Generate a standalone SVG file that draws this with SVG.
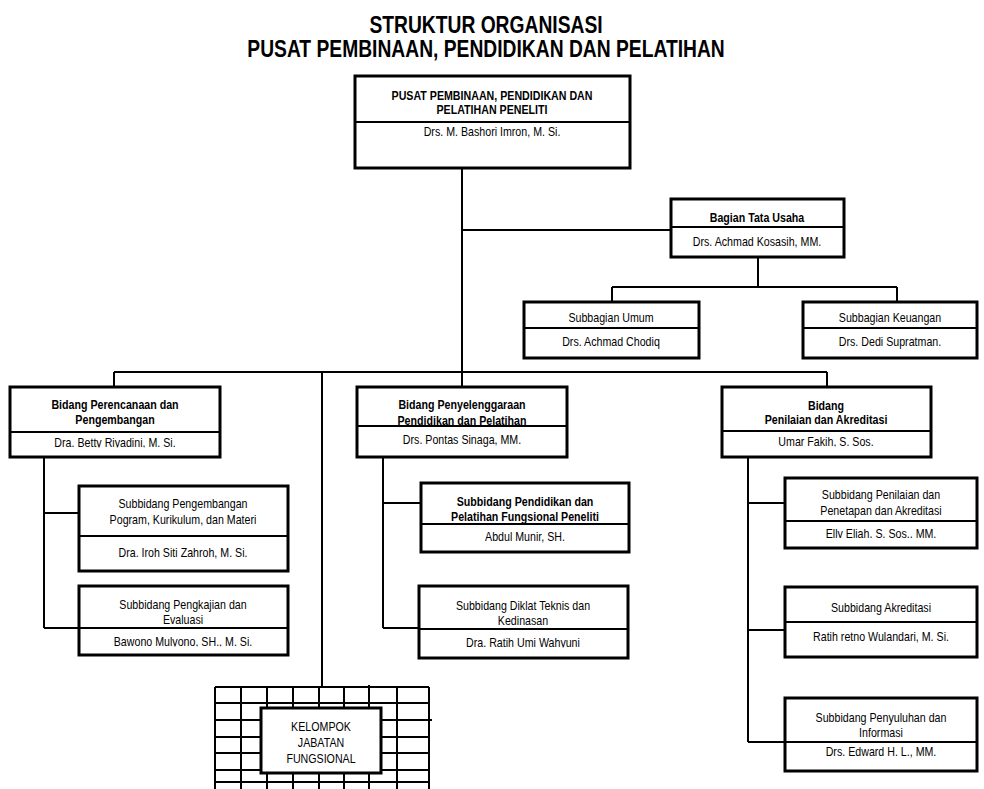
<svg xmlns="http://www.w3.org/2000/svg" width="984" height="789" viewBox="0 0 984 789">
<style>
.bx{fill:#fff;stroke:#000;stroke-width:3}
.dv{stroke:#000;stroke-width:2}
.cn{stroke:#000;stroke-width:2;fill:none}
.gr{stroke:#000;stroke-width:2;fill:none}
text{font-family:"Liberation Sans",Arial,sans-serif;font-size:13px;text-anchor:middle;fill:#000}
.b{font-weight:bold}
.ttl{font-size:23.5px;font-weight:bold}
</style>
<defs>
<clipPath id="c1" clipPathUnits="userSpaceOnUse"><rect x="10" y="432" width="210" height="15.5"/></clipPath>
<clipPath id="c2" clipPathUnits="userSpaceOnUse"><rect x="722" y="432" width="209" height="14.5"/></clipPath>
<clipPath id="c3" clipPathUnits="userSpaceOnUse"><rect x="79" y="629" width="209" height="17.5"/></clipPath>
<clipPath id="c4" clipPathUnits="userSpaceOnUse"><rect x="419" y="630" width="209" height="17.5"/></clipPath>
<clipPath id="c5" clipPathUnits="userSpaceOnUse"><rect x="785" y="522" width="192" height="16"/></clipPath>
</defs>

<g id="title">
<text class="ttl" transform="translate(486,33) scale(.82,1)">STRUKTUR ORGANISASI</text>
<text class="ttl" transform="translate(486,57) scale(.82,1)">PUSAT PEMBINAAN, PENDIDIKAN DAN PELATIHAN</text>
</g>

<g id="connectors">
<path class="cn" d="M462 168V387"/>
<path class="cn" d="M462 230H671"/>
<path class="cn" d="M758 257V287M612 287H897M612 287V302M897 287V302"/>
<path class="cn" d="M114 372H827M114 372V387M827 372V387M322 372V687"/>
<path class="cn" d="M44 457V628M44 513H79M44 628H79"/>
<path class="cn" d="M383 457V628M383 503H421M383 628H419"/>
<path class="cn" d="M748 457V742M748 503H785M748 630H785M748 742H785"/>
</g>

<g id="pusat">
<rect class="bx" x="355" y="76" width="275" height="92"/>
<line class="dv" x1="355" y1="122" x2="630" y2="122"/>
<text class="b" transform="translate(492,100) scale(.82,1)">PUSAT PEMBINAAN, PENDIDIKAN DAN</text>
<text class="b" transform="translate(492,114) scale(.82,1)">PELATIHAN PENELITI</text>
<text transform="translate(492,136) scale(.82,1)">Drs. M. Bashori Imron, M. Si.</text>
</g>

<g id="tata-usaha">
<rect class="bx" x="671" y="199" width="173" height="58"/>
<line class="dv" x1="671" y1="227" x2="844" y2="227"/>
<text class="b" transform="translate(757,222) scale(.82,1)">Bagian Tata Usaha</text>
<text transform="translate(757,246) scale(.82,1)">Drs. Achmad Kosasih, MM.</text>
</g>

<g id="subbagian-umum">
<rect class="bx" x="524" y="302" width="175" height="56"/>
<line class="dv" x1="524" y1="328" x2="699" y2="328"/>
<text transform="translate(611,322) scale(.82,1)">Subbagian Umum</text>
<text transform="translate(611,346) scale(.82,1)">Drs. Achmad Chodiq</text>
</g>

<g id="subbagian-keuangan">
<rect class="bx" x="803" y="302" width="174" height="56"/>
<line class="dv" x1="803" y1="328" x2="977" y2="328"/>
<text transform="translate(890,322) scale(.82,1)">Subbagian Keuangan</text>
<text transform="translate(890,346) scale(.82,1)">Drs. Dedi Supratman.</text>
</g>

<g id="bidang-perencanaan">
<rect class="bx" x="10" y="387" width="210" height="70"/>
<line class="dv" x1="10" y1="432" x2="220" y2="432"/>
<text class="b" transform="translate(115,409) scale(.82,1)">Bidang Perencanaan dan</text>
<text class="b" transform="translate(115,424) scale(.82,1)">Pengembangan</text>
<g clip-path="url(#c1)"><text transform="translate(115,447) scale(.82,1)">Dra. Betty Riyadini, M. Si.</text></g>
</g>

<g id="bidang-penyelenggaraan">
<rect class="bx" x="357" y="387" width="210" height="70"/>
<text class="b" transform="translate(462,409) scale(.82,1)">Bidang Penyelenggaraan</text>
<text class="b" transform="translate(462,425) scale(.82,1)">Pendidikan dan Pelatihan</text>
<line class="dv" x1="357" y1="426" x2="567" y2="426"/>
<text transform="translate(462,444) scale(.82,1)">Drs. Pontas Sinaga, MM.</text>
</g>

<g id="bidang-penilaian">
<rect class="bx" x="722" y="387" width="209" height="70"/>
<line class="dv" x1="722" y1="431" x2="931" y2="431"/>
<text class="b" transform="translate(826,410) scale(.82,1)">Bidang</text>
<text class="b" transform="translate(826,424) scale(.82,1)">Penilaian dan Akreditasi</text>
<g clip-path="url(#c2)"><text transform="translate(826,446) scale(.82,1)">Umar Fakih, S. Sos.</text></g>
</g>

<g id="subbidang-pengembangan">
<rect class="bx" x="79" y="486" width="209" height="85"/>
<line class="dv" x1="79" y1="536" x2="288" y2="536"/>
<text transform="translate(183,508) scale(.82,1)">Subbidang Pengembangan</text>
<text transform="translate(183,524) scale(.82,1)">Pogram, Kurikulum, dan Materi</text>
<text transform="translate(183,557) scale(.82,1)">Dra. Iroh Siti Zahroh, M. Si.</text>
</g>

<g id="subbidang-pengkajian">
<rect class="bx" x="79" y="586" width="209" height="69"/>
<line class="dv" x1="79" y1="628" x2="288" y2="628"/>
<text transform="translate(183,609) scale(.82,1)">Subbidang Pengkajian dan</text>
<text transform="translate(183,624) scale(.82,1)">Evaluasi</text>
<g clip-path="url(#c3)"><text transform="translate(183,646) scale(.82,1)">Bawono Mulyono, SH., M. Si.</text></g>
</g>

<g id="subbidang-pendidikan">
<rect class="bx" x="421" y="483" width="208" height="69"/>
<text class="b" transform="translate(525,506) scale(.82,1)">Subbidang Pendidikan dan</text>
<text class="b" transform="translate(525,521) scale(.82,1)">Pelatihan Fungsional Peneliti</text>
<line class="dv" x1="421" y1="524" x2="629" y2="524"/>
<text transform="translate(525,541) scale(.82,1)">Abdul Munir, SH.</text>
</g>

<g id="subbidang-diklat">
<rect class="bx" x="419" y="586" width="209" height="72"/>
<line class="dv" x1="419" y1="629" x2="628" y2="629"/>
<text transform="translate(523,610) scale(.82,1)">Subbidang Diklat Teknis dan</text>
<text transform="translate(523,625) scale(.82,1)">Kedinasan</text>
<g clip-path="url(#c4)"><text transform="translate(523,647) scale(.82,1)">Dra. Ratih Umi Wahyuni</text></g>
</g>

<g id="subbidang-penilaian">
<rect class="bx" x="785" y="478" width="192" height="70"/>
<line class="dv" x1="785" y1="521" x2="977" y2="521"/>
<text transform="translate(881,499) scale(.82,1)">Subbidang Penilaian dan</text>
<text transform="translate(881,515) scale(.82,1)">Penetapan dan Akreditasi</text>
<g clip-path="url(#c5)"><text transform="translate(881,537.5) scale(.82,1)">Elly Eliah, S. Sos., MM.</text></g>
</g>

<g id="subbidang-akreditasi">
<rect class="bx" x="785" y="587" width="192" height="70"/>
<line class="dv" x1="785" y1="622" x2="977" y2="622"/>
<text transform="translate(881,612) scale(.82,1)">Subbidang Akreditasi</text>
<text transform="translate(881,641) scale(.82,1)">Ratih retno Wulandari, M. Si.</text>
</g>

<g id="subbidang-penyuluhan">
<rect class="bx" x="785" y="698" width="192" height="73"/>
<line class="dv" x1="785" y1="742" x2="977" y2="742"/>
<text transform="translate(881,722) scale(.82,1)">Subbidang Penyuluhan dan</text>
<text transform="translate(881,737) scale(.82,1)">Informasi</text>
<text transform="translate(881,756) scale(.82,1)">Drs. Edward H. L., MM.</text>
</g>

<g id="kelompok">
<path class="gr" d="M215 687V789M241 687V789M267 687V789M293 687V789M319 687V789M344 687V789M369 685V789M397 687V789M429 687V789"/>
<path class="gr" d="M215 687H429M215 703H429M215 720H432M215 737H429M215 753H429M215 770H429M215 782H429"/>
<rect class="bx" x="261" y="708" width="120" height="65"/>
<text transform="translate(321,731) scale(.82,1)">KELOMPOK</text>
<text transform="translate(321,747) scale(.82,1)">JABATAN</text>
<text transform="translate(321,763) scale(.82,1)">FUNGSIONAL</text>
</g>
</svg>
